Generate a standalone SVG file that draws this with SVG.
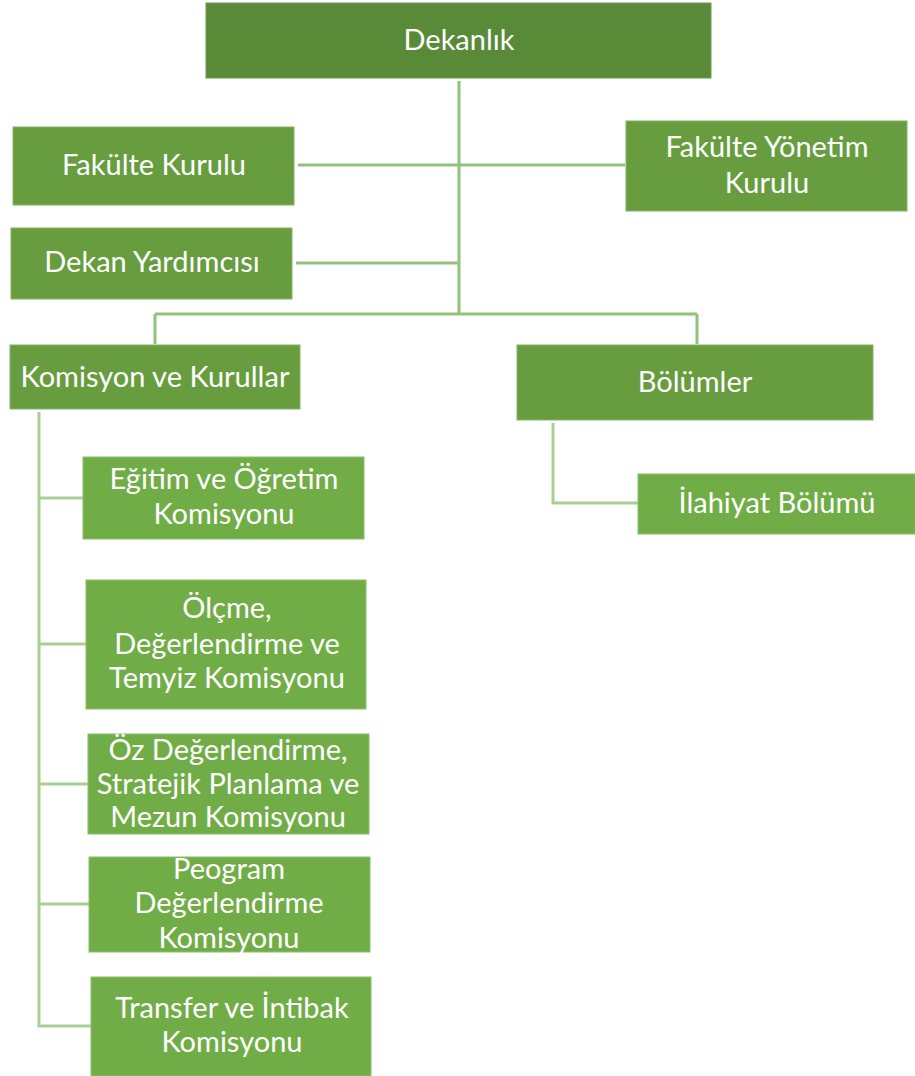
<svg xmlns="http://www.w3.org/2000/svg" width="915" height="1076" viewBox="0 0 915 1076">
<style>
.t{font-family:Lato,"Open Sans","Liberation Sans",sans-serif;font-size:29px;fill:#ffffff;text-anchor:middle}
.l1{fill:#588a37;stroke:#6e9e50;stroke-width:1}
.l2{fill:#679d3f;stroke:#85b466;stroke-width:1}
.l3{fill:#71ad47;stroke:#8cc06b;stroke-width:1}
.c1{stroke:#92c27b;stroke-width:3;fill:none}
.c2{stroke:#a9cf94;stroke-width:3;fill:none}
</style>
<rect width="915" height="1076" fill="#ffffff"/>
<g id="connectors">
<path class="c1" d="M459 81V314M298 165H625M296 263H459M155 314H697M155 314V344M697 314V344"/>
<path class="c2" d="M39 412V1026H91M39 498H83M39 644H86M39 784H88M39 904H89M553 423V503H638"/>
</g>
<g id="dekanlik"><rect class="l1" x="206" y="3" width="505" height="75"/><text class="t" x="459" y="50">Dekanlık</text></g>
<g id="fakulte-kurulu"><rect class="l2" x="13" y="127" width="281" height="78"/><text class="t" x="154" y="175">Fakülte Kurulu</text></g>
<g id="fakulte-yonetim-kurulu"><rect class="l2" x="626" y="121" width="281" height="90"/><text class="t" x="767" y="157">Fakülte Yönetim</text><text class="t" x="767" y="193">Kurulu</text></g>
<g id="dekan-yardimcisi"><rect class="l2" x="11" y="228" width="281" height="71"/><text class="t" x="152" y="272">Dekan Yardımcısı</text></g>
<g id="komisyon-ve-kurullar"><rect class="l2" x="10" y="345" width="290" height="64"/><text class="t" x="155" y="387">Komisyon ve Kurullar</text></g>
<g id="bolumler"><rect class="l2" x="517" y="345" width="356" height="75"/><text class="t" x="695" y="392">Bölümler</text></g>
<g id="ilahiyat-bolumu"><rect class="l3" x="638" y="474" width="280" height="60"/><text class="t" x="777" y="513">İlahiyat Bölümü</text></g>
<g id="egitim-ogretim"><rect class="l3" x="83" y="457" width="281" height="82"/><text class="t" x="224" y="489">Eğitim ve Öğretim</text><text class="t" x="224" y="524">Komisyonu</text></g>
<g id="olcme"><rect class="l3" x="86" y="580" width="280" height="129"/><text class="t" x="227" y="618">Ölçme,</text><text class="t" x="227" y="654">Değerlendirme ve</text><text class="t" x="227" y="688">Temyiz Komisyonu</text></g>
<g id="oz-degerlendirme"><rect class="l3" x="88" y="734" width="281" height="100"/><text class="t" x="228" y="760">Öz Değerlendirme,</text><text class="t" x="228" y="794">Stratejik Planlama ve</text><text class="t" x="228" y="827">Mezun Komisyonu</text></g>
<g id="peogram"><rect class="l3" x="89" y="857" width="281" height="95"/><text class="t" x="229" y="879">Peogram</text><text class="t" x="229" y="913">Değerlendirme</text><text class="t" x="229" y="948">Komisyonu</text></g>
<g id="transfer"><rect class="l3" x="91" y="977" width="280" height="99"/><text class="t" x="232" y="1018">Transfer ve İntibak</text><text class="t" x="232" y="1052">Komisyonu</text></g>
</svg>
